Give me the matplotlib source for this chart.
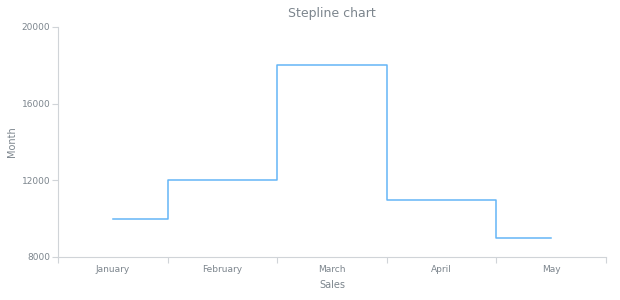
import matplotlib.pyplot as plt
import numpy as np

months = ["January", "February", "March", "April", "May"]
sales = [10000, 12000, 18000, 11000, 9000]
y_ticks = [8000, 12000, 16000, 20000]

text_color = "#7c858d"
axis_color = "#d0d4d8"
line_color = "#64b5f6"

fig = plt.figure(figsize=(6.2, 3.0), dpi=100)
ax = fig.add_axes([58 / 620, 43 / 300, 548 / 620, 230 / 300])

x = np.arange(len(months))
ax.plot(x, sales, drawstyle="steps-mid", color=line_color, linewidth=1.1)

ax.set_xlim(-0.5, len(months) - 0.5)
ax.set_ylim(8000, 20000)
ax.set_yticks(y_ticks)
ax.set_yticklabels([str(v) for v in y_ticks])
ax.set_xticks(x)
ax.set_xticklabels(months)
ax.set_xticks(np.arange(len(months) + 1) - 0.5, minor=True)

for side in ["top", "right"]:
    ax.spines[side].set_visible(False)
for side in ["left", "bottom"]:
    ax.spines[side].set_color(axis_color)
    ax.spines[side].set_linewidth(0.8)

ax.tick_params(axis="x", which="major", length=0, pad=6, labelsize=6.5, labelcolor=text_color)
ax.tick_params(axis="x", which="minor", length=4, color=axis_color, width=0.8)
ax.tick_params(axis="y", length=4, color=axis_color, width=0.8, pad=1.5, labelsize=6.5, labelcolor=text_color)

ax.set_xlabel("Sales", fontsize=7, color=text_color, labelpad=4)
ax.set_ylabel("Month", fontsize=7, color=text_color)
ax.yaxis.set_label_coords(-41 / 548, 0.5)
ax.set_title("Stepline chart", fontsize=9, color=text_color, pad=7)

fig.savefig("out.png", dpi=100)
